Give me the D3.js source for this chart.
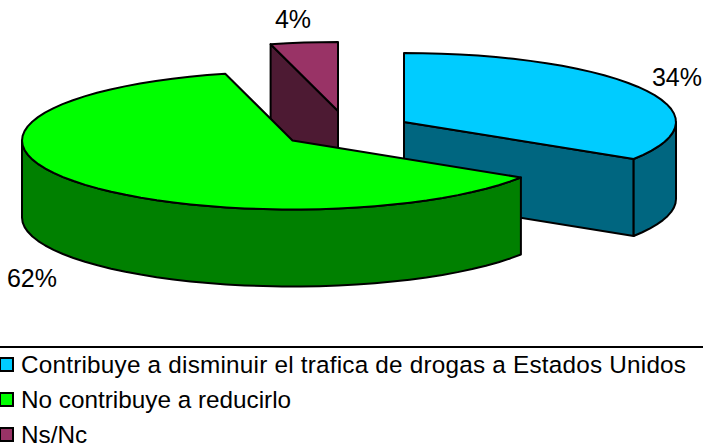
<!DOCTYPE html>
<html>
<head>
<meta charset="utf-8">
<script src="https://cdnjs.cloudflare.com/ajax/libs/d3/7.8.5/d3.min.js"></script>
<style>
html,body{margin:0;padding:0;background:#fff}
svg{display:block}
text{font-family:"Liberation Sans",Arial,sans-serif;fill:#000}
</style>
</head>
<body>
<svg id="c" width="703" height="446"></svg>
<script>
const categories = ["Contribuye a disminuir el trafica de drogas a Estados Unidos", "No contribuye a reducirlo", "Ns/Nc"];
const values = [34, 62, 4];
const labels = ["34%", "62%", "4%"];
const topColors = ["#00CCFF", "#00FF00", "#993366"];
const sideColors = ["#006680", "#008000", "#4D1A33"];

// layout
const apex = [[404, 122], [292.5, 140.5], [338, 111]];
const radiusX = [272, 270.5, 271];
const labelPos = [[677, 86], [32, 287], [293, 28]];
const ry = 69, depth = 77;

const svg = d3.select("#c");
const arcs = d3.pie().sort(null).value(d => d)(values);

const px = i => t => apex[i][0] + radiusX[i] * Math.sin(t);
const py = i => t => apex[i][1] - ry * Math.cos(t);
const line = d3.line().x(d => d[0]).y(d => d[1]);

function rim(i, a, b, dy) {
  const n = Math.max(2, Math.ceil(Math.abs(b - a) / 0.07));
  return d3.range(n + 1).map(k => {
    const t = a + (b - a) * k / n;
    return [px(i)(t), py(i)(t) + dy];
  });
}
function outerWall(i, a, b) {
  return line(rim(i, a, b, 0).concat(rim(i, b, a, depth))) + "Z";
}
function cutWall(i, t) {
  const e = [px(i)(t), py(i)(t)], c = apex[i];
  return line([c, e, [e[0], e[1] + depth], [c[0], c[1] + depth]]) + "Z";
}
function topFace(i, a, b) {
  return line([apex[i]].concat(rim(i, a, b, 0))) + "Z";
}

const stroke = g => g.attr("stroke", "#000").attr("stroke-width", 2).attr("stroke-linejoin", "round");
const PI = Math.PI;

// back to front: purple, blue, green
[2, 0, 1].forEach(i => {
  const a = arcs[i].startAngle, b = arcs[i].endAngle;
  const g = svg.append("g").call(stroke);
  // the visible cut face: end of blue, start of purple
  g.selectAll("path.cut").data(i === 2 ? [a] : i === 0 ? [b] : [])
    .join("path").attr("class", "cut").attr("fill", sideColors[i]).attr("d", t => cutWall(i, t));
  // outer wall: only the front half of the ellipse shows
  const fa = Math.max(a, PI / 2), fb = Math.min(b, 3 * PI / 2);
  if (fb > fa) g.append("path").attr("fill", sideColors[i]).attr("d", outerWall(i, fa, fb));
  g.append("path").attr("fill", topColors[i]).attr("d", topFace(i, a, b));
});

svg.selectAll("text.pct").data(labels).join("text").attr("class", "pct")
  .attr("x", (d, i) => labelPos[i][0]).attr("y", (d, i) => labelPos[i][1])
  .attr("text-anchor", "middle").attr("font-size", 25).text(d => d);

// legend
svg.append("line").attr("x1", 0).attr("x2", 703).attr("y1", 347).attr("y2", 347)
  .attr("stroke", "#000").attr("stroke-width", 2);
const rowY = d3.scalePoint().domain(categories).range([365, 435]);
const rows = svg.selectAll("g.lg").data(categories).join("g").attr("class", "lg")
  .attr("transform", d => `translate(0,${rowY(d)})`);
rows.append("rect").attr("x", 0).attr("y", -7).attr("width", 13).attr("height", 13)
  .attr("fill", (d, i) => topColors[i]).attr("stroke", "#000").attr("stroke-width", 2);
rows.append("text").attr("x", 21).attr("y", 8).attr("font-size", 24.3)
  .attr("textLength", (d, i) => i === 0 ? 665 : null)
  .text(d => d);
</script>
</body>
</html>
